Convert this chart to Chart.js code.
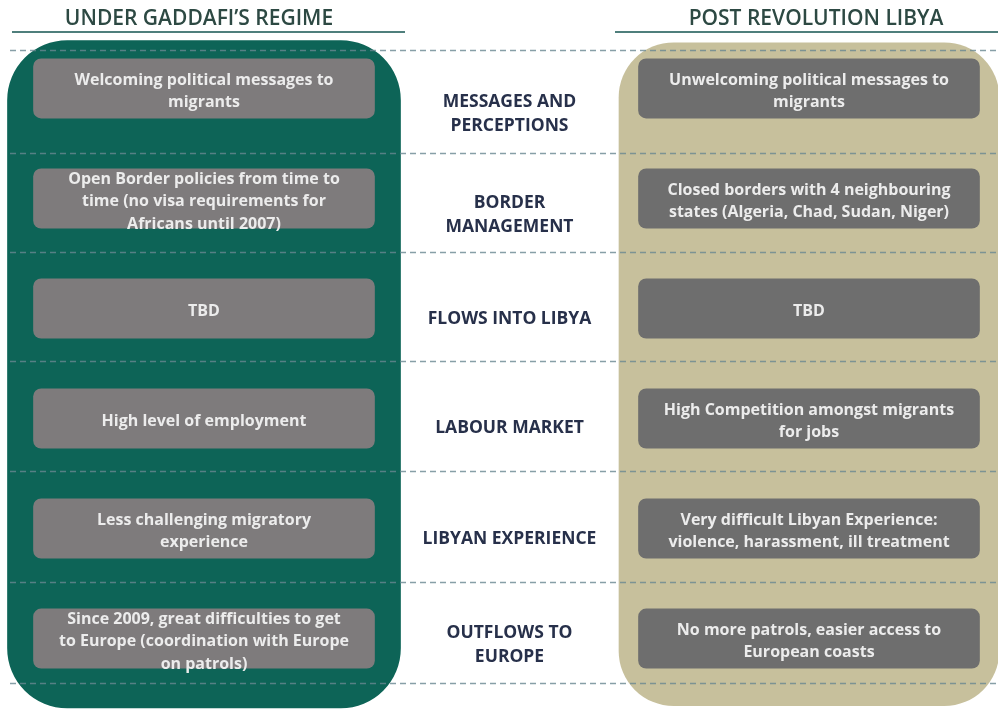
<!DOCTYPE html>
<html>
<head>
<meta charset="utf-8">
<script src="https://cdn.jsdelivr.net/npm/chart.js@4.4.1/dist/chart.umd.min.js"></script>
<style>
html, body { margin: 0; padding: 0; background: #fff; }
#wrap { width: 998px; height: 709px; }
</style>
</head>
<body>
<div id="wrap"><canvas id="c" width="998" height="709"></canvas></div>
<script>
// the two regimes being compared, and the topic column between them
var columns = ['UNDER GADDAFI\u2019S REGIME', 'TOPIC', 'POST REVOLUTION LIBYA'];

var topics = [
  ['MESSAGES AND', 'PERCEPTIONS'],
  ['BORDER', 'MANAGEMENT'],
  ['FLOWS INTO LIBYA'],
  ['LABOUR MARKET'],
  ['LIBYAN EXPERIENCE'],
  ['OUTFLOWS TO', 'EUROPE']
];

var underGaddafi = [
  ['Welcoming political messages to', 'migrants'],
  ['Open Border policies from time to', 'time (no visa requirements for', 'Africans until 2007)'],
  ['TBD'],
  ['High level of employment'],
  ['Less challenging migratory', 'experience'],
  ['Since 2009, great difficulties to get', 'to Europe (coordination with Europe', 'on patrols)']
];

var postRevolution = [
  ['Unwelcoming political messages to', 'migrants'],
  ['Closed borders with 4 neighbouring', 'states (Algeria, Chad, Sudan, Niger)'],
  ['TBD'],
  ['High Competition amongst migrants', 'for jobs'],
  ['Very difficult Libyan Experience:', 'violence, harassment, ill treatment'],
  ['No more patrols, easier access to', 'European coasts']
];

// row index of each topic, and the dashed separators between rows (in row units)
var rows = [0, 1, 2, 3, 4, 5];
var rowEdges = [-0.345, 0.59, 1.49, 2.48, 3.48, 4.49, 5.4];

var FONT = '"Open Sans", "DejaVu Sans", sans-serif';

// background panels, one per regime
var datasets = [{
  label: columns[0],
  data: [[rowEdges[0] - 0.09, rowEdges[6] + 0.23], null, null],
  backgroundColor: '#0d6457',
  barThickness: 393,
  borderRadius: 60,
  order: 3
}, {
  label: columns[2],
  data: [null, null, [rowEdges[0] - 0.07, rowEdges[6] + 0.21]],
  backgroundColor: '#c7c09c',
  barThickness: 380,
  borderRadius: 55,
  order: 3
}];

// grey boxes: one dataset per topic row, left and right column
rows.forEach(function (r) {
  datasets.push({
    label: topics[r].join(' '),
    data: [[r - 0.27, r + 0.27], null, [r - 0.27, r + 0.27]],
    backgroundColor: ['#7e7b7c', 'rgba(0,0,0,0)', '#6e6e6e'],
    barThickness: 341,
    borderRadius: 8,
    order: 1,
    texts: [underGaddafi[r], null, postRevolution[r]]
  });
});

function drawLines(ctx, lines, cx, cy, lh) {
  var top = cy - (lines.length - 1) * lh / 2;
  lines.forEach(function (t, i) {
    ctx.fillText(t, cx, top + i * lh);
  });
}

var sheetPlugin = {
  id: 'sheet',
  afterDatasetsDraw: function (chart) {
    var ctx = chart.ctx;
    var x = chart.scales.x, y = chart.scales.y;
    var xl = x.getPixelForValue(0), xm = x.getPixelForValue(1), xr = x.getPixelForValue(2);
    ctx.save();

    // dashed row separators
    ctx.setLineDash([6, 4]);
    ctx.lineWidth = 1.3;
    ctx.strokeStyle = 'rgba(105,135,145,0.8)';
    rowEdges.forEach(function (v) {
      var py = Math.round(y.getPixelForValue(v)) + 0.5;
      ctx.beginPath();
      ctx.moveTo(10, py);
      ctx.lineTo(chart.width, py);
      ctx.stroke();
    });
    ctx.setLineDash([]);

    // column headers with underline
    ctx.textAlign = 'center';
    ctx.textBaseline = 'middle';
    ctx.fillStyle = '#2d4943';
    ctx.font = '600 21px ' + FONT;
    ctx.fillText(columns[0], xl - 5, 19);
    ctx.fillText(columns[2], xr + 7, 19);
    ctx.strokeStyle = '#4f7f7c';
    ctx.lineWidth = 2;
    ctx.beginPath();
    ctx.moveTo(xl - 192, 32); ctx.lineTo(xl + 201, 32);
    ctx.moveTo(xr - 194, 32); ctx.lineTo(chart.width, 32);
    ctx.stroke();

    // topic labels in the middle column
    ctx.fillStyle = '#27304a';
    ctx.font = 'bold 17.5px ' + FONT;
    rows.forEach(function (r) {
      var cy = (y.getPixelForValue(rowEdges[r]) + y.getPixelForValue(rowEdges[r + 1])) / 2 + 12;
      drawLines(ctx, topics[r], xm + 3, cy, 24);
    });

    // texts inside the grey boxes
    ctx.fillStyle = '#ececec';
    ctx.font = 'bold 16px ' + FONT;
    chart.data.datasets.forEach(function (ds, di) {
      if (!ds.texts) return;
      var meta = chart.getDatasetMeta(di);
      [0, 2].forEach(function (col) {
        var bar = meta.data[col];
        var p = bar.getProps(['x', 'y', 'base'], true);
        drawLines(ctx, ds.texts[col], p.x, (p.y + p.base) / 2 + 3, 22.5);
      });
    });
    ctx.restore();
  }
};

new Chart(document.getElementById('c'), {
  type: 'bar',
  data: { labels: columns, datasets: datasets },
  options: {
    responsive: false,
    animation: false,
    devicePixelRatio: 1,
    layout: { padding: { left: 52.75, right: 37.75, top: 40, bottom: 0 } },
    datasets: { bar: { grouped: false, borderSkipped: false, clip: false, categoryPercentage: 1 } },
    plugins: { legend: { display: false }, tooltip: { enabled: false } },
    scales: {
      x: { type: 'category', display: false },
      y: { type: 'linear', reverse: true, min: -0.44, max: 5.64, display: false }
    }
  },
  plugins: [sheetPlugin]
});
</script>
</body>
</html>
